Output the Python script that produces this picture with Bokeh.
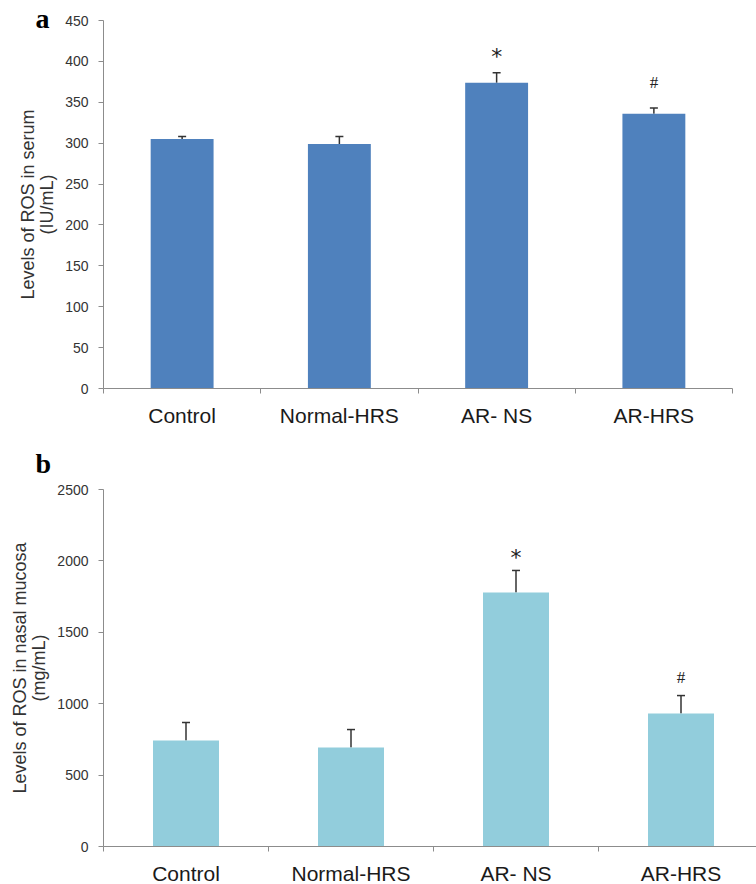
from bokeh.plotting import figure
from bokeh.models import (ColumnDataSource, Whisker, TeeHead, FixedTicker, Label)
from bokeh.layouts import column
from bokeh.embed import file_html
from bokeh.resources import INLINE

# ---------------- data ----------------
groups = ["Control", "Normal-HRS", "AR- NS", "AR-HRS"]
marks = ["", "", "*", "#"]

serum_mean = [305, 299, 374, 336]
serum_err = [3, 9, 12, 7]
serum_ticks = [0, 50, 100, 150, 200, 250, 300, 350, 400, 450]

mucosa_mean = [742, 693, 1779, 931]
mucosa_err = [126, 126, 154, 126]
mucosa_ticks = [0, 500, 1000, 1500, 2000, 2500]

# ---------------- style ----------------
AXIS_GRAY = "#8c8c8c"
SANS = "Liberation Sans"
SERIF = "Liberation Serif"
MARK_FONT = {"*": "DejaVu Sans", "#": "Liberation Serif", "": "DejaVu Sans"}
MARK_SIZE = {"*": "22px", "#": "17px", "": "12px"}
FIG_W = 756


def panel(means, errs, yticks, ylabel, color, letter, height,
          x0_px, xn_px, ytop_px, y0_px, mark_offsets, letter_dy):
    n = len(groups)
    centers = [i + 0.5 for i in range(n)]
    ymax = yticks[-1]
    # pixel <-> data mapping: the frame fills the whole canvas and the
    # axes are drawn at x=0 / y=0 inside it (Excel-like placement)
    sx = (xn_px - x0_px) / n
    sy = (y0_px - ytop_px) / ymax
    x_range = (-x0_px / sx, n + (FIG_W - xn_px) / sx)
    y_range = (-(height - y0_px) / sy, ymax + ytop_px / sy)

    src = ColumnDataSource(dict(
        x=centers, top=means,
        upper=[m + e for m, e in zip(means, errs)],
        lower=list(means), mark=marks,
        mfont=[MARK_FONT[m] for m in marks],
        msize=[MARK_SIZE[m] for m in marks],
        moff=[mark_offsets.get(m, 0) for m in marks],
    ))
    p = figure(width=FIG_W, height=height, output_backend="svg",
               toolbar_location=None, x_range=x_range, y_range=y_range,
               min_border_left=0, min_border_right=0,
               min_border_top=0, min_border_bottom=0)
    p.outline_line_color = None
    p.grid.visible = False
    p.background_fill_color = "white"
    p.border_fill_color = "white"

    p.vbar(x="x", top="top", bottom=0, width=0.4, source=src,
           fill_color=color, line_color=None)

    w = Whisker(source=src, base="x", upper="upper", lower="lower",
                dimension="height", line_color="#333333", line_width=1.5,
                upper_head=TeeHead(size=8, line_color="#333333", line_width=1.5),
                lower_head=None)
    p.add_layout(w)

    p.text(x="x", y="upper", text="mark", source=src, text_align="center",
           text_baseline="middle", y_offset="moff",
           text_font="mfont", text_font_size="msize",
           text_color="#222222")

    # y axis
    ya = p.yaxis[0]
    ya.fixed_location = 0
    ya.bounds = (yticks[0], ymax)
    ya.ticker = FixedTicker(ticks=yticks)
    ya.minor_tick_line_color = None
    ya.axis_line_color = AXIS_GRAY
    ya.major_tick_line_color = AXIS_GRAY
    ya.major_tick_out = 5
    ya.major_tick_in = 0
    ya.major_label_standoff = 10
    ya.major_label_text_font = SANS
    ya.major_label_text_font_size = "14px"
    ya.major_label_text_color = "#333333"
    ya.axis_label = ylabel
    ya.axis_label_text_font = SANS
    ya.axis_label_text_font_size = "18px"
    ya.axis_label_text_font_style = "normal"
    ya.axis_label_text_color = "#333333"
    ya.axis_label_text_line_height = 0.95
    ya.axis_label_standoff = 5

    # x axis: labels at category centres, tick marks between categories
    xa = p.xaxis[0]
    xa.fixed_location = 0
    xa.bounds = (0, n)
    xa.ticker = FixedTicker(ticks=centers, minor_ticks=list(range(n + 1)))
    xa.major_label_overrides = {c: g for c, g in zip(centers, groups)}
    xa.axis_line_color = AXIS_GRAY
    xa.major_tick_line_color = None
    xa.minor_tick_line_color = AXIS_GRAY
    xa.minor_tick_out = 5
    xa.minor_tick_in = 0
    xa.major_label_standoff = 9
    xa.major_label_text_font = SANS
    xa.major_label_text_font_size = "21px"
    xa.major_label_text_color = "#1a1a1a"

    p.add_layout(Label(x=0, y=ymax, x_offset=-68, y_offset=letter_dy,
                       text=letter, text_font=SERIF, text_font_size="28px",
                       text_font_style="bold", text_color="black",
                       text_baseline="alphabetic"))
    return p


pa = panel(serum_mean, serum_err, serum_ticks,
           "Levels of ROS in serum\n(IU/mL)", "#4F81BD", "a",
           height=440, x0_px=103, xn_px=732, ytop_px=20, y0_px=388,
           mark_offsets={"*": -16, "#": -26}, letter_dy=2)
pb = panel(mucosa_mean, mucosa_err, mucosa_ticks,
           "Levels of ROS in nasal mucosa\n(mg/mL)", "#92CDDC", "b",
           height=444, x0_px=103, xn_px=763, ytop_px=49, y0_px=406,
           mark_offsets={"*": -13, "#": -18}, letter_dy=26)

layout = column(pa, pb, spacing=0)
open("out.html", "w").write(file_html(layout, INLINE))
